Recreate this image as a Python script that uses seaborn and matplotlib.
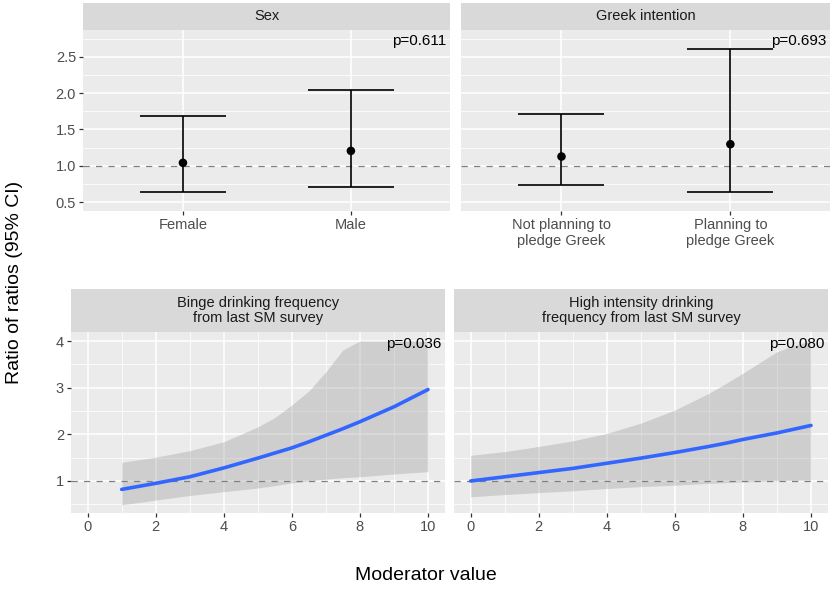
import numpy as np
import pandas as pd
import matplotlib
matplotlib.use("Agg")
import matplotlib.pyplot as plt
import matplotlib.transforms as mtransforms
from matplotlib.ticker import MultipleLocator
import seaborn as sns

# ---------------- data ----------------
sex_levels = ["Female", "Male"]
sex_est = [1.04, 1.205]
sex_lo = [0.64, 0.71]
sex_hi = [1.68, 2.05]
sex_p = "p=0.611"

greek_levels = ["Not planning to\npledge Greek", "Planning to\npledge Greek"]
greek_est = [1.127, 1.297]
greek_lo = [0.73, 0.644]
greek_hi = [1.72, 2.61]
greek_p = "p=0.693"

binge_x = [1, 2, 3, 4, 5, 5.5, 6, 6.5, 7, 7.5, 8, 9, 10]
binge_est = [0.82, 0.95, 1.09, 1.28, 1.49, 1.60, 1.71, 1.84, 1.98, 2.12, 2.27, 2.59, 2.96]
binge_lo = [0.49, 0.59, 0.69, 0.77, 0.85, 0.90, 0.96, 1.00, 1.04, 1.07, 1.09, 1.15, 1.20]
binge_hi = [1.40, 1.51, 1.65, 1.84, 2.16, 2.36, 2.63, 2.93, 3.34, 3.81, 4.0, 4.0, 4.0]
binge_p = "p=0.036"

hid_x = [0, 1, 2, 3, 4, 5, 6, 7, 7.5, 8, 8.5, 9, 9.5, 10]
hid_est = [1.00, 1.09, 1.18, 1.27, 1.38, 1.49, 1.61, 1.74, 1.81, 1.89, 1.96, 2.03, 2.11, 2.19]
hid_lo = [0.66, 0.71, 0.75, 0.79, 0.84, 0.88, 0.91, 0.95, 0.965, 0.98, 0.99, 1.00, 1.01, 1.02]
hid_hi = [1.55, 1.63, 1.74, 1.86, 2.02, 2.24, 2.52, 2.88, 3.09, 3.31, 3.54, 3.77, 3.90, 4.0]
hid_p = "p=0.080"

strip_titles = ["Sex", "Greek intention",
                "Binge drinking frequency\nfrom last SM survey",
                "High intensity drinking\nfrequency from last SM survey"]

# ---------------- style ----------------
sns.set_theme(style="darkgrid")
plt.rcParams['font.family'] = ['Liberation Sans', 'DejaVu Sans']

W, H = 831, 589
fig = plt.figure(figsize=(W / 100, H / 100), dpi=100)
fig.patch.set_facecolor('white')

PANEL = '#EBEBEB'
STRIP = '#D9D9D9'


def rect(x0, y0, x1, y1):
    return [x0 / W, 1 - y1 / H, (x1 - x0) / W, (y1 - y0) / H]


def style_axes(ax, show_y=True):
    ax.set_facecolor(PANEL)
    for s in ax.spines.values():
        s.set_visible(False)
    ax.grid(which='major', color='white', lw=1.1)
    ax.grid(which='minor', color='white', lw=0.55)
    ax.set_axisbelow(True)
    ax.tick_params(which='major', length=3, width=0.9, color='#333333',
                   labelsize=10.5, labelcolor='#4D4D4D', pad=2,
                   direction='out', bottom=True, left=show_y)
    ax.tick_params(which='minor', length=0, bottom=False, left=False)
    if not show_y:
        ax.tick_params(axis='y', labelleft=False, left=False)
    ax.set_xlabel('')
    ax.set_ylabel('')


def strip(x0, y0, x1, y1, label):
    sa = fig.add_axes(rect(x0, y0, x1, y1))
    sa.set_facecolor(STRIP)
    sa.set_xticks([])
    sa.set_yticks([])
    sa.grid(False)
    for s in sa.spines.values():
        s.set_visible(False)
    sa.text(0.5, 0.5, label, ha='center', va='center', fontsize=10.5,
            color='#1A1A1A', transform=sa.transAxes, linespacing=1.1)


def ptext(ax, p, y, width_px):
    tr = mtransforms.blended_transform_factory(ax.transAxes, ax.transData)
    ax.text(1 - 3.5 / width_px, y, p, transform=tr, ha='right', va='center',
            fontsize=11, color='black', zorder=5)


def cat_panel(box, levels, est, lo, hi, p, show_y):
    ax = fig.add_axes(rect(*box))
    df = pd.DataFrame({'pos': np.arange(len(levels)), 'est': est, 'lo': lo, 'hi': hi})
    ax.axhline(1, color='#808080', lw=0.9, ls=(0, (5, 5)), zorder=2)
    ax.errorbar(df['pos'], df['est'],
                yerr=[df['est'] - df['lo'], df['hi'] - df['est']],
                fmt='none', ecolor='black', elinewidth=1.2, capsize=31,
                capthick=1.2, zorder=3)
    sns.scatterplot(data=df, x='pos', y='est', ax=ax, color='black', s=38,
                    edgecolor='none', zorder=4, legend=False)
    ax.set_xticks(df['pos'])
    ax.set_xticklabels(levels)
    ax.set_xlim(-0.595, 1.59)
    ax.set_ylim(0.376, 2.872)
    ax.yaxis.set_major_locator(MultipleLocator(0.5))
    ax.yaxis.set_minor_locator(MultipleLocator(0.25))
    ax.yaxis.set_major_formatter(matplotlib.ticker.FormatStrFormatter('%.1f'))
    style_axes(ax, show_y)
    ax.grid(which='minor', axis='x', visible=False)
    ptext(ax, p, 2.72, box[2] - box[0])
    return ax


def cont_panel(box, x, est, lo, hi, p, show_y):
    ax = fig.add_axes(rect(*box))
    df = pd.DataFrame({'x': x, 'est': est, 'lo': lo, 'hi': hi})
    ax.fill_between(df['x'], df['lo'], df['hi'], color='#8C8C8C', alpha=0.3,
                    lw=0, zorder=1)
    ax.axhline(1, color='#808080', lw=0.9, ls=(0, (5, 5)), zorder=2)
    sns.lineplot(data=df, x='x', y='est', ax=ax, color='#3366FF', lw=2.6,
                 zorder=3)
    ax.set_xlim(-0.49, 10.5)
    ax.set_ylim(0.314, 4.193)
    ax.xaxis.set_major_locator(MultipleLocator(2))
    ax.xaxis.set_minor_locator(MultipleLocator(1))
    ax.yaxis.set_major_locator(MultipleLocator(1))
    ax.yaxis.set_minor_locator(MultipleLocator(0.5))
    style_axes(ax, show_y)
    ptext(ax, p, 3.94, box[2] - box[0])
    return ax


# top row
strip(83, 3, 450, 30, strip_titles[0])
strip(461, 3, 830, 30, strip_titles[1])
cat_panel((83, 30, 450, 211), sex_levels, sex_est, sex_lo, sex_hi, sex_p, True)
cat_panel((461, 30, 830, 211), greek_levels, greek_est, greek_lo, greek_hi, greek_p, False)

# bottom row
strip(71, 289, 445, 332, strip_titles[2])
strip(454, 289, 828, 332, strip_titles[3])
cont_panel((71, 332, 445, 513), binge_x, binge_est, binge_lo, binge_hi, binge_p, True)
cont_panel((454, 332, 828, 513), hid_x, hid_est, hid_lo, hid_hi, hid_p, False)

fig.text(15 / W, 1 - 282 / H, "Ratio of ratios (95% CI)", rotation=90,
         fontsize=14, ha='center', va='center', color='black')
fig.text(426 / W, 1 - 575 / H, "Moderator value", fontsize=14,
         ha='center', va='center', color='black')

fig.savefig('out.png', dpi=100)
